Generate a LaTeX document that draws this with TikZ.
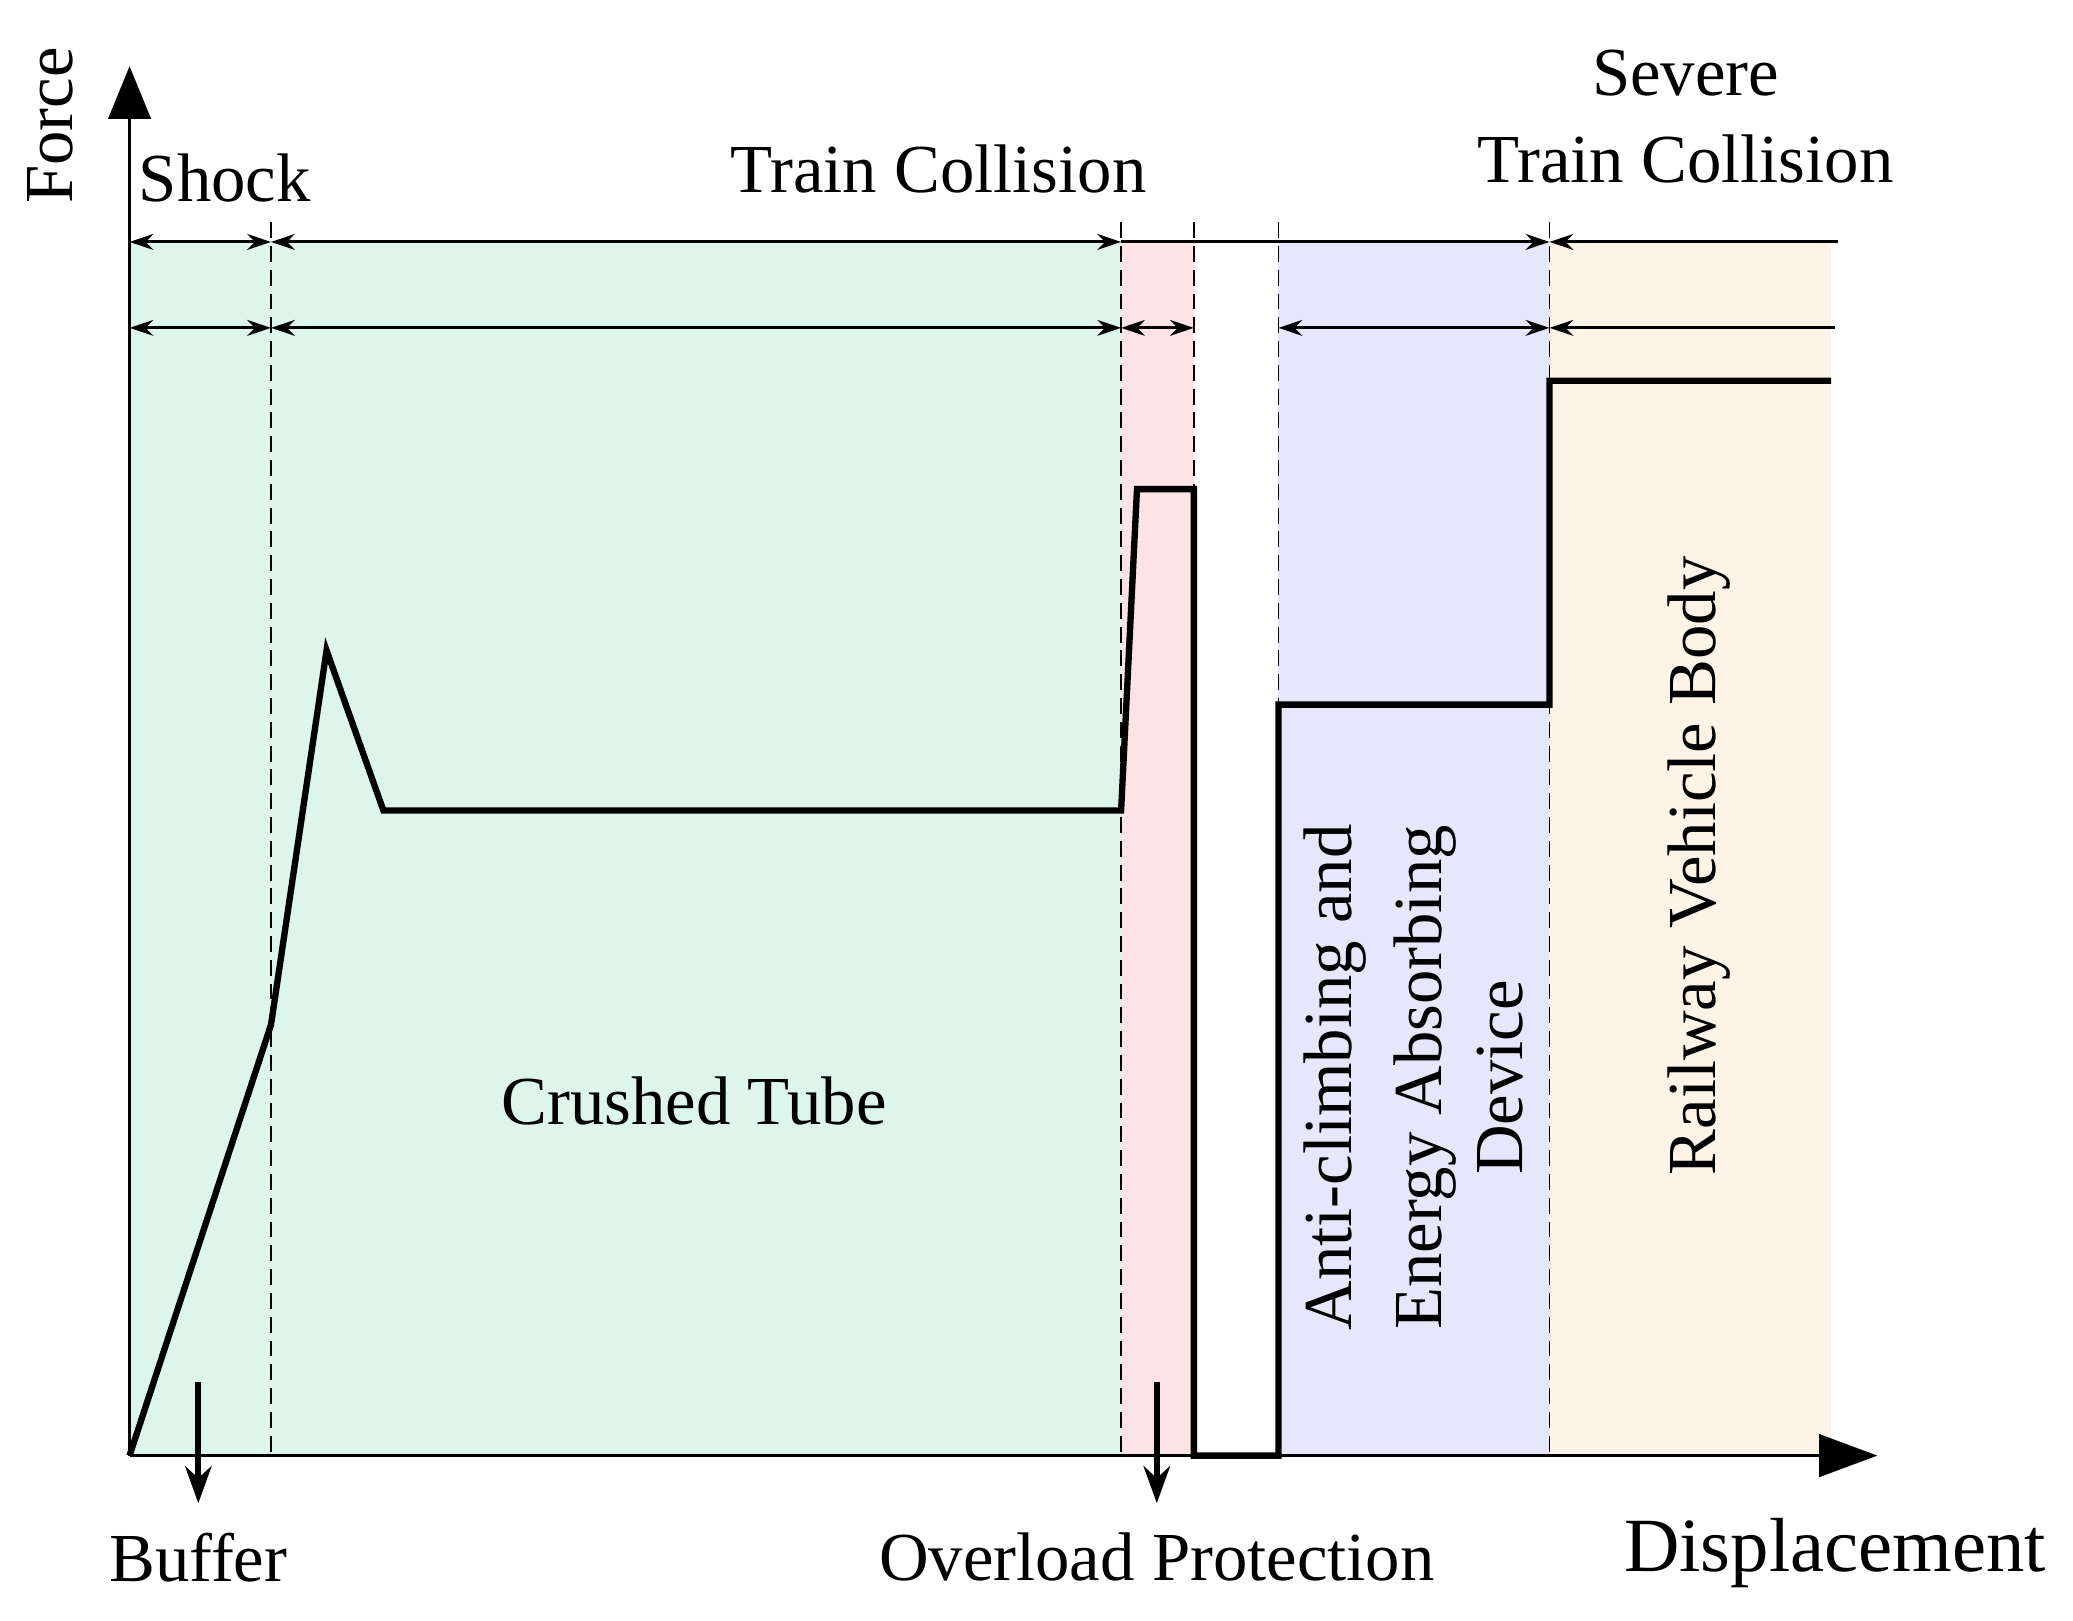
\documentclass[tikz,border=0pt]{standalone}
\usepackage{fontspec}
\setmainfont{Liberation Serif}
\usetikzlibrary{arrows.meta}
\definecolor{cg}{RGB}{222,245,236}
\definecolor{cp}{RGB}{253,227,230}
\definecolor{cb}{RGB}{230,230,252}
\definecolor{co}{RGB}{253,243,230}
\begin{document}
\begin{tikzpicture}[x=0.5pt,y=-0.5pt,
  lbl/.style={font=\fontsize{26}{30}\selectfont,inner sep=0pt},
  dim/.style={line width=1.1pt,{Stealth[length=9pt,width=6pt]}-{Stealth[length=9pt,width=6pt]}},
  dimL/.style={line width=1.1pt,{Stealth[length=9pt,width=6pt]}-},
  dimR/.style={line width=1.1pt,-{Stealth[length=9pt,width=6pt]}},
  dsh/.style={dashed,line width=0.7pt,dash pattern=on 6pt off 3pt},
  big/.style={line width=2.2pt,-{Stealth[length=14pt,width=10pt]}}]
\useasboundingbox (0,0) rectangle (1568,1226);
\fill[cg] (98,183) rectangle (848,1101);
\fill[cp] (848,183) rectangle (903,1101);
\fill[cb] (967,183) rectangle (1172,1101);
\fill[co] (1172,183) rectangle (1385,1101);
\foreach \x in {205,848,903,967,1172} \draw[dsh] (\x,168) -- (\x,1101);
% axes
\coordinate (O) at (98,1101);
\coordinate (Y) at (98,50);
\coordinate (X) at (1420,1101);
\draw[line width=1.3pt,-{Triangle[length=20pt,width=16pt]}] (O) -- (Y);
\draw[line width=1.3pt,-{Triangle[length=22pt,width=16pt]}] (O) -- (X);
% row 1
\coordinate (a1) at (98,183); \coordinate (b1) at (205,183); \coordinate (c1) at (848,183);
\coordinate (d1) at (1172,183); \coordinate (e1) at (1390,183);
\draw[dim] (a1) -- (b1);
\draw[dim] (b1) -- (c1);
\draw[dimR] (c1) -- (d1);
\draw[dimL] (d1) -- (e1);
% row 2
\coordinate (a2) at (98,248); \coordinate (b2) at (205,248); \coordinate (c2) at (848,248);
\coordinate (f2) at (903,248); \coordinate (g2) at (967,248); \coordinate (d2) at (1172,248); \coordinate (e2) at (1388,248);
\draw[dim] (a2) -- (b2);
\draw[dim] (b2) -- (c2);
\draw[dim] (c2) -- (f2);
\draw[dim] (g2) -- (d2);
\draw[dimL] (d2) -- (e2);
% curve
\draw[line width=2.4pt,line join=miter] (98,1101) -- (205,775) -- (247,492) -- (290,613) -- (848,613) -- (860,370) -- (903,370) -- (903,1101) -- (967,1101) -- (967,533) -- (1172,533) -- (1172,288) -- (1385,288);
% down arrows
\coordinate (p1) at (150,1045); \coordinate (q1) at (150,1137);
\coordinate (p2) at (875,1045); \coordinate (q2) at (875,1137);
\draw[big] (p1) -- (q1);
\draw[big] (p2) -- (q2);
% texts
\node[lbl,rotate=90] (force) at (38,95) {Force};
\node[lbl] (shock) at (170,135) {Shock};
\node[lbl] (tc) at (710,128) {Train Collision};
\node[lbl] (sev) at (1275,55) {Severe};
\node[lbl] (stc) at (1275,120) {Train Collision};
\node[lbl] (ct) at (525,833) {Crushed Tube};
\node[lbl,rotate=90] (ac) at (1010,815) {Anti-climbing and};
\node[lbl,rotate=90] (ea) at (1078,815) {Energy Absorbing};
\node[lbl,rotate=90] (dv) at (1135,815) {Device};
\node[lbl,rotate=90] (rv) at (1285,655) {Railway Vehicle Body};
\node[lbl] (buf) at (150,1178) {Buffer};
\node[lbl] (op) at (875,1178) {Overload Protection};
\node[lbl,font=\fontsize{29}{32}\selectfont] (disp) at (1388,1175) {Displacement};
\end{tikzpicture}
\end{document}
